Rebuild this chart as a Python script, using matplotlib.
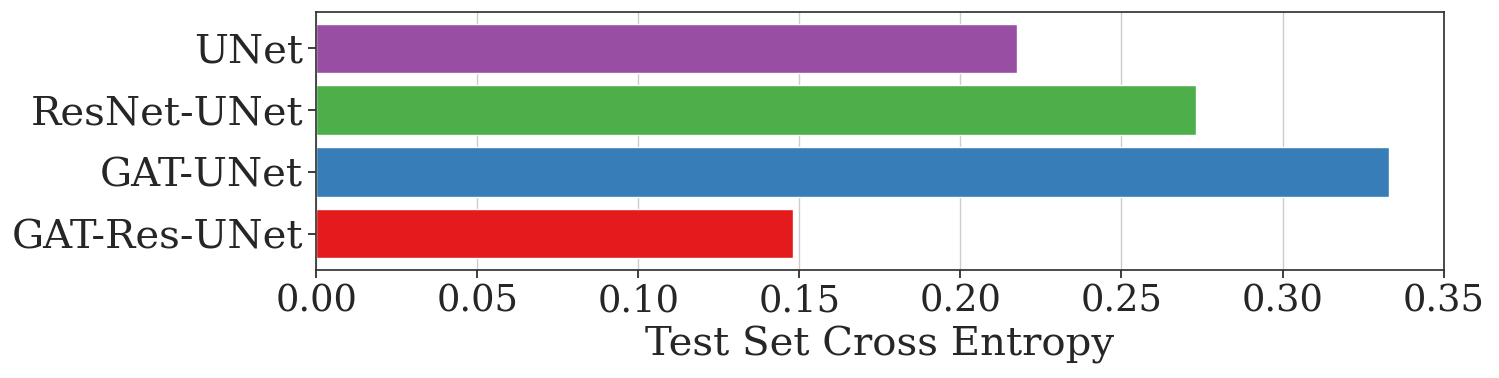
import matplotlib
matplotlib.use("Agg")
import matplotlib.pyplot as plt
import seaborn as sns

models = ["GAT-Res-UNet", "GAT-UNet", "ResNet-UNet", "UNet"]
cross_entropy = [0.148, 0.333, 0.273, 0.2175]
colors = ["#e41a1c", "#377eb8", "#4daf4a", "#984ea3"]
xticks = [0.00, 0.05, 0.10, 0.15, 0.20, 0.25, 0.30, 0.35]

sns.set_theme(style="ticks")
plt.rcParams["font.family"] = ["DejaVu Serif"]

fig = plt.figure(figsize=(14.99, 3.78), dpi=100)
ax = fig.add_axes([0.211, 0.286, 0.752, 0.682])

ax.barh(models, cross_entropy, color=colors, height=0.8, edgecolor="white", linewidth=1)
ax.set_xlim(0, 0.35)
ax.set_xticks(xticks)
ax.set_xticklabels([f"{t:.2f}" for t in xticks], fontsize=26.5)
ax.tick_params(axis="y", labelsize=29)
ax.set_xlabel("Test Set Cross Entropy", fontsize=29, labelpad=5)
ax.grid(axis="x", color="#cccccc", linewidth=1)
ax.set_axisbelow(True)
for s in ax.spines.values():
    s.set_color("#333333")

fig.savefig("out.png", dpi=100)
